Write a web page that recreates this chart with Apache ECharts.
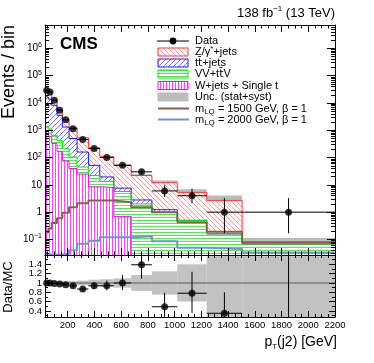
<!DOCTYPE html>
<html>
<head>
<meta charset="utf-8">
<script src="https://cdn.jsdelivr.net/npm/echarts@6.0.0/dist/echarts.min.js"></script>
<style>
  html, body { margin: 0; padding: 0; background: #fff; }
  #chart { width: 374px; height: 363px; }
</style>
</head>
<body>
<div id="chart"></div>
<script>
// bin edges of pT(j2) in GeV
const binEdges = [30, 55, 80, 120, 160, 210, 270, 355, 440, 545, 675, 830, 1020, 1240, 1505, 2200];

// observed events per bin and their (Poisson) errors
const dataCounts = [29500, 25600, 12700, 5400, 2440, 1150, 460, 214, 100, 52, 30, 6, 4, 1, 1];
const dataErrLo = [172, 160, 113, 73, 49, 34, 21, 15, 10, 7.2, 5.4, 2.4, 1.9, 0.83, 0.83];
const dataErrHi = [172, 160, 113, 73, 49, 34, 22, 15, 11, 8.2, 6.5, 3.6, 3.2, 2.3, 2.3];

// backgrounds (per bin, not stacked)
const zJets = [12900, 11600, 4400, 1950, 1220, 720, 370, 176, 86.5, 44.4, 19.2, 10.8, 4.8, 2.54, 0];
const ttJets = [15200, 12900, 7650, 3130, 1110, 395, 115, 30, 6, 1.9, 0.8, 0.23, 0, 0, 0];
const vvTtv = [500, 500, 320, 250, 135, 65, 20, 13.5, 5.5, 5.0, 2.0, 1.0, 0.5, 0.16, 0.07];
const wJets = [900, 600, 330, 170, 75, 40, 25, 8.5, 8, 0.7, 0, 0, 0, 0, 0];
const stackUnc = [0.03, 0.03, 0.03, 0.03, 0.035, 0.04, 0.05, 0.06, 0.08, 0.1, 0.12, 0.2, 0.3, 0.5, 0.6];

// signals
const lq1500 = [0.18, 0.25, 0.4, 0.6, 0.95, 1.5, 2.1, 2.7, 2.7, 2.3, 1.5, 1.0, 0.43, 0.19, 0.079];
const lq2000 = [0.028, 0.028, 0.028, 0.028, 0.03, 0.04, 0.069, 0.09, 0.12, 0.12, 0.13, 0.085, 0.05, 0.045, 0.033];

// ratio panel
const ratioVals = [1.0, 1.0, 0.99, 0.98, 0.96, 0.94, 0.87, 0.94, 0.94, 1.0, 1.39, 0.49, 0.78, 0.35, 14];
const ratioErrLo = [0.01, 0.01, 0.01, 0.015, 0.02, 0.03, 0.04, 0.07, 0.1, 0.15, 0.3, 0.25, 0.42, 0.3, 13.9];
const ratioErrHi = [0.01, 0.01, 0.01, 0.015, 0.02, 0.03, 0.04, 0.07, 0.11, 0.17, 0.32, 0.3, 0.46, 0.45, 30];
const ratioUnc = [0.03, 0.03, 0.03, 0.03, 0.035, 0.04, 0.05, 0.07, 0.08, 0.1, 0.17, 0.25, 0.4, 1.0, 1.0];

// tick labels
const xTickLabels = [200, 400, 600, 800, 1000, 1200, 1400, 1600, 1800, 2000, 2200];
const yTickExps = [-1, 0, 1, 2, 3, 4, 5, 6];
const ratioTickLabels = [0.4, 0.6, 0.8, 1, 1.2, 1.4];

const FONT = 'Liberation Sans, Arial, sans-serif';
const X0 = 30, X1 = 2200, Y0 = -1.57, Y1 = 6.86, R0 = 0.27, R1 = 1.6;
const nBins = dataCounts.length;

const lg = v => (v > 0 ? Math.log10(v) : -5);

// stacked totals
const cumW = wJets.slice();
const cumVV = cumW.map((v, i) => v + vvTtv[i]);
const cumTT = cumVV.map((v, i) => v + ttJets[i]);
const cumZ = cumTT.map((v, i) => v + zJets[i]);

function stepData(arr) {
  const d = arr.map((v, i) => [binEdges[i], lg(v)]);
  d.push([binEdges[nBins], lg(arr[nBins - 1])]);
  return d;
}

function hatch(kind, color, bg, size, lw) {
  const c = document.createElement('canvas');
  c.width = size; c.height = size;
  const g = c.getContext('2d');
  g.fillStyle = bg;
  g.fillRect(0, 0, size, size);
  g.strokeStyle = color;
  g.lineWidth = lw;
  g.beginPath();
  if (kind === 'back') {
    for (const o of [-size, 0, size]) { g.moveTo(o - 1, -1); g.lineTo(o + size + 1, size + 1); }
  } else if (kind === 'fwd') {
    for (const o of [0, size, 2 * size]) { g.moveTo(o + 1, -1); g.lineTo(o - size - 1, size + 1); }
  } else if (kind === 'horiz') {
    g.moveTo(0, size / 2); g.lineTo(size, size / 2);
  } else if (kind === 'vert') {
    g.moveTo(size / 2, 0); g.lineTo(size / 2, size);
  }
  g.stroke();
  return { image: c, repeat: 'repeat' };
}

const patZ = hatch('back', '#ff8c8c', '#ffffff', 5, 0.9);
const patTT = hatch('fwd', '#6b6bff', '#ffffff', 5, 0.9);
const patVV = hatch('horiz', '#55e855', '#ffffff', 3, 1);
const patW = hatch('vert', '#ff44ff', '#ffffff', 3, 1);

const colZ = '#ff3333', colTT = '#1a1aff', colVV = '#00ee00', colW = '#ff00ff';
const colLQ1 = '#8c5f4a', colLQ2 = '#6f93cf';

// tick positions
const xMinor = [];
for (let v = 50; v < 2200; v += 50) if (v % 200) xMinor.push(v);
const yMinor = [];
for (let e = -2; e <= 6; e++) for (let k = 2; k <= 9; k++) {
  const v = e + Math.log10(k);
  if (v > Y0 && v < Y1) yMinor.push(v);
}
const rMinor = [0.3, 0.5, 0.7, 0.9, 1.1, 1.3, 1.5];

function ax(grid, pos, min, max, ticks, len, line) {
  return {
    type: 'value', gridIndex: grid, position: pos, min: min, max: max, z: 10,
    splitLine: { show: false },
    axisLine: { show: line, onZero: false, lineStyle: { color: '#000', width: 1 } },
    axisTick: { show: true, inside: true, length: len, customValues: ticks, lineStyle: { color: '#000', width: 1 } },
    axisLabel: { show: false }
  };
}

const labelBase = {
  show: true, color: '#000', fontFamily: FONT, margin: 3, interval: 0,
  hideOverlap: false, showMinLabel: true, showMaxLabel: true
};

const xAxes = [
  ax(0, 'bottom', X0, X1, xTickLabels, 7, true),
  ax(0, 'bottom', X0, X1, xMinor, 3.5, false),
  ax(0, 'top', X0, X1, xTickLabels, 7, true),
  ax(0, 'top', X0, X1, xMinor, 3.5, false),
  ax(1, 'bottom', X0, X1, xTickLabels, 6, true),
  ax(1, 'bottom', X0, X1, xMinor, 3, false),
  ax(1, 'top', X0, X1, xTickLabels, 6, true),
  ax(1, 'top', X0, X1, xMinor, 3, false)
];
xAxes[4].axisLabel = Object.assign({}, labelBase, {
  customValues: xTickLabels, fontSize: 9.5, formatter: v => String(Math.round(v))
});

const yAxes = [
  ax(0, 'left', Y0, Y1, yTickExps, 8, true),
  ax(0, 'left', Y0, Y1, yMinor, 4, false),
  ax(0, 'right', Y0, Y1, yTickExps, 8, true),
  ax(0, 'right', Y0, Y1, yMinor, 4, false),
  ax(1, 'left', R0, R1, ratioTickLabels, 6, true),
  ax(1, 'left', R0, R1, rMinor, 3, false),
  ax(1, 'right', R0, R1, ratioTickLabels, 6, true),
  ax(1, 'right', R0, R1, rMinor, 3, false)
];
yAxes[0].axisLabel = Object.assign({}, labelBase, {
  customValues: yTickExps, fontSize: 10, lineHeight: 13,
  formatter: v => {
    const e = Math.round(v);
    if (e === 0) return '1';
    if (e === 1) return '10';
    return '10{s|' + (e < 0 ? '\u2212' : '') + Math.abs(e) + '}';
  },
  rich: { s: { fontSize: 7, lineHeight: 8, verticalAlign: 'top', fontFamily: FONT, color: '#000' } }
});
// ratio labels are split over two overlapping axes so none of them gets hidden
const ratioFmt = v => (Math.abs(v - 1) < 1e-6 ? '1' : v.toFixed(1));
yAxes[4].axisLabel = Object.assign({}, labelBase, {
  customValues: ratioTickLabels.filter((v, i) => i % 2 === 0), fontSize: 9.5, formatter: ratioFmt
});
yAxes[5].axisLabel = Object.assign({}, labelBase, {
  customValues: ratioTickLabels.filter((v, i) => i % 2 === 1), fontSize: 9.5, formatter: ratioFmt
});

function stackSeries(name, arr, pat, col) {
  return {
    name: name, type: 'line', xAxisIndex: 0, yAxisIndex: 0, data: stepData(arr), step: 'end',
    symbol: 'none', clip: true, silent: true,
    lineStyle: { color: col, width: 1 },
    areaStyle: { color: pat, opacity: 1, origin: 'start' }
  };
}

function sigSeries(name, arr, col) {
  return {
    name: name, type: 'line', xAxisIndex: 0, yAxisIndex: 0, data: stepData(arr), step: 'end',
    symbol: 'none', clip: true, silent: true, lineStyle: { color: col, width: 2 }
  };
}

function bandItem(params, api, fill) {
  const p1 = api.coord([api.value(0), api.value(3)]);
  const p2 = api.coord([api.value(1), api.value(2)]);
  return { type: 'rect', shape: { x: p1[0], y: p1[1], width: p2[0] - p1[0], height: p2[1] - p1[1] }, style: { fill: fill } };
}

function errItem(params, api) {
  const xlo = api.value(0), xhi = api.value(1), xc = (xlo + xhi) / 2;
  const pl = api.coord([xlo, api.value(3)]), pr = api.coord([xhi, api.value(3)]);
  const pt = api.coord([xc, api.value(4)]), pb = api.coord([xc, api.value(2)]);
  return {
    type: 'group', children: [
      { type: 'line', shape: { x1: pl[0], y1: pl[1], x2: pr[0], y2: pr[1] }, style: { stroke: '#000', lineWidth: 1 } },
      { type: 'line', shape: { x1: pt[0], y1: pt[1], x2: pb[0], y2: pb[1] }, style: { stroke: '#000', lineWidth: 1 } }
    ]
  };
}

const upperBand = cumZ.map((t, i) => [binEdges[i], binEdges[i + 1], lg(t * (1 - stackUnc[i])), lg(t * (1 + stackUnc[i]))]);
const upperErr = dataCounts.map((n, i) => [binEdges[i], binEdges[i + 1], lg(n - dataErrLo[i]), lg(n), lg(n + dataErrHi[i])]);
const upperDots = dataCounts.map((n, i) => [(binEdges[i] + binEdges[i + 1]) / 2, lg(n)]);
const ratioBand = ratioUnc.map((u, i) => [binEdges[i], binEdges[i + 1], 1 - u, 1 + u]);
const ratioErr = ratioVals.map((r, i) => [binEdges[i], binEdges[i + 1], r - ratioErrLo[i], r, r + ratioErrHi[i]]);
const ratioDots = ratioVals.map((r, i) => [(binEdges[i] + binEdges[i + 1]) / 2, r]);

const bandFill = 'rgba(140,140,140,0.6)';

const series = [
  stackSeries('Z/γ*+jets', cumZ, patZ, colZ),
  stackSeries('tt+jets', cumTT, patTT, colTT),
  stackSeries('VV+ttV', cumVV, patVV, colVV),
  stackSeries('W+jets + Single t', cumW, patW, colW),
  {
    name: 'Unc.', type: 'custom', xAxisIndex: 0, yAxisIndex: 0, data: upperBand, clip: true, silent: true,
    encode: { x: [0, 1], y: [2, 3] }, renderItem: (p, a) => bandItem(p, a, bandFill)
  },
  sigSeries('LQ 1500', lq1500, colLQ1),
  sigSeries('LQ 2000', lq2000, colLQ2),
  {
    name: 'Data err', type: 'custom', xAxisIndex: 0, yAxisIndex: 0, data: upperErr, clip: true, silent: true,
    encode: { x: [0, 1], y: [2, 3, 4] }, renderItem: errItem, z: 4
  },
  {
    name: 'Data', type: 'scatter', xAxisIndex: 0, yAxisIndex: 0, data: upperDots, clip: true, silent: true,
    symbolSize: 7, itemStyle: { color: '#000' }, z: 5
  },
  {
    name: 'Ratio band', type: 'custom', xAxisIndex: 4, yAxisIndex: 4, data: ratioBand, clip: true, silent: true,
    encode: { x: [0, 1], y: [2, 3] }, renderItem: (p, a) => bandItem(p, a, '#c2c2c2')
  },
  {
    name: 'One', type: 'line', xAxisIndex: 4, yAxisIndex: 4, data: [[X0, 1], [X1, 1]], symbol: 'none', silent: true,
    lineStyle: { color: '#8e8e8e', width: 2 }
  },
  {
    name: 'Ratio err', type: 'custom', xAxisIndex: 4, yAxisIndex: 4, data: ratioErr, clip: true, silent: true,
    encode: { x: [0, 1], y: [2, 3, 4] }, renderItem: errItem, z: 4
  },
  {
    name: 'Ratio', type: 'scatter', xAxisIndex: 4, yAxisIndex: 4, data: ratioDots, clip: true, silent: true,
    symbolSize: 7, itemStyle: { color: '#000' }, z: 5
  }
];

// legend and texts
const richSS = {
  sup: { fontSize: 8, lineHeight: 8, verticalAlign: 'top', fontFamily: FONT, fill: '#000' },
  sub: { fontSize: 8, lineHeight: 8, verticalAlign: 'bottom', fontFamily: FONT, fill: '#000' },
  tb: { fontSize: 11, fontFamily: 'DejaVu Sans', fill: '#000' }
};
function txt(x, y, text, size, opts) {
  return Object.assign({
    type: 'text', x: x, y: y, silent: true, z: 20,
    style: Object.assign({
      text: text, fontSize: size, fontFamily: FONT, fill: '#000', lineHeight: size + 4,
      align: 'left', textAlign: 'left', verticalAlign: 'middle', textVerticalAlign: 'middle', rich: richSS
    }, (opts && opts.style) || {})
  }, (opts && opts.el) || {});
}
const rows = [41, 52, 63, 74, 85.5, 97, 108.5, 119.5];
const legendLabels = [
  'Data', 'Z/γ{sup|*}+jets', 't{tb|t\u0304}+jets', 'VV+t{tb|t\u0304}V', 'W+jets + Single t', 'Unc. (stat+syst)',
  'm{sub|LQ} = 1500 GeV, β = 1', 'm{sub|LQ} = 2000 GeV, β = 1'
];
const boxFills = [null, patZ, patTT, patVV, patW, '#bdbdbd'];
const boxStrokes = [null, colZ, colTT, colVV, colW, '#bdbdbd'];

const graphics = [];
graphics.push({ type: 'line', silent: true, z: 20, shape: { x1: 157, y1: rows[0], x2: 189, y2: rows[0] }, style: { stroke: '#000', lineWidth: 1 } });
graphics.push({ type: 'circle', silent: true, z: 21, shape: { cx: 173, cy: rows[0], r: 3.4 }, style: { fill: '#000' } });
for (let i = 1; i <= 5; i++) {
  graphics.push({
    type: 'rect', silent: true, z: 20, shape: { x: 158, y: rows[i] - 4, width: 30, height: 8 },
    style: { fill: boxFills[i], stroke: boxStrokes[i], lineWidth: 1 }
  });
}
graphics.push({ type: 'line', silent: true, z: 20, shape: { x1: 158, y1: rows[6], x2: 189, y2: rows[6] }, style: { stroke: colLQ1, lineWidth: 2 } });
graphics.push({ type: 'line', silent: true, z: 20, shape: { x1: 158, y1: rows[7], x2: 189, y2: rows[7] }, style: { stroke: colLQ2, lineWidth: 2 } });
legendLabels.forEach((t, i) => graphics.push(txt(195, rows[i], t, 11)));

graphics.push(txt(60, 44, 'CMS', 17, { style: { fontWeight: 'bold' } }));
graphics.push(txt(335, 13, '138 fb{sup|\u22121} (13 TeV)', 13, { style: { align: 'right', textAlign: 'right' } }));
graphics.push(txt(9, 25, 'Events / bin', 18, { style: { align: 'right', textAlign: 'right' }, el: { rotation: Math.PI / 2 } }));
graphics.push(txt(8, 287, 'Data/MC', 13, { style: { align: 'center', textAlign: 'center' }, el: { rotation: Math.PI / 2 } }));
graphics.push(txt(337, 342, 'p{sub|T}(j2) [GeV]', 14, { style: { align: 'right', textAlign: 'right' } }));

const chart = echarts.init(document.getElementById('chart'));
chart.setOption({
  animation: false,
  backgroundColor: '#fff',
  grid: [
    { left: 45, top: 25, width: 290, height: 230, outerBoundsMode: 'none', containLabel: false },
    { left: 45, top: 255, width: 290, height: 62, outerBoundsMode: 'none', containLabel: false }
  ],
  xAxis: xAxes,
  yAxis: yAxes,
  series: series,
  graphic: { elements: graphics }
});
</script>
</body>
</html>
